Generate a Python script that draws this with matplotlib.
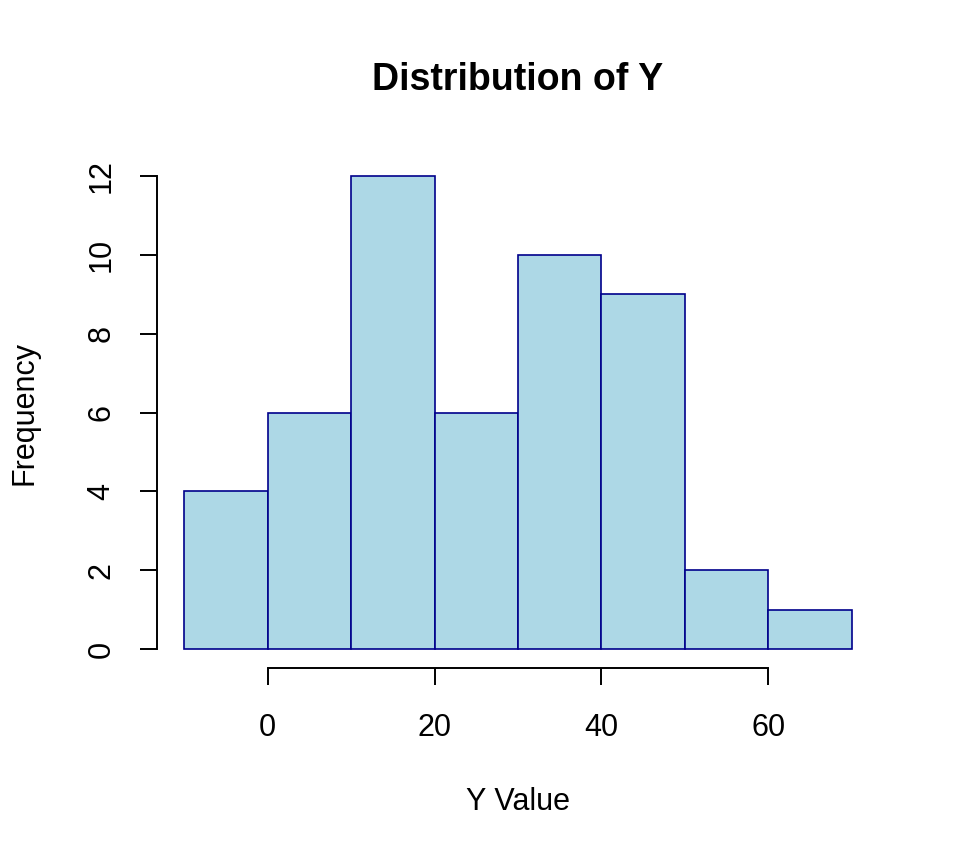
import matplotlib
matplotlib.use("Agg")
import matplotlib.pyplot as plt
import numpy as np

plt.rcParams['font.family'] = ['Liberation Sans', 'DejaVu Sans']

# histogram data
bin_edges = [-10, 0, 10, 20, 30, 40, 50, 60, 70]
counts = [4, 6, 12, 6, 10, 9, 2, 1]
x_ticks = [0, 20, 40, 60]
y_ticks = [0, 2, 4, 6, 8, 10, 12]

fig = plt.figure(figsize=(9.6, 8.64), dpi=100)
W, H = 960, 864
ax = fig.add_axes([157.3 / W, 1 - 667.9 / H, (878.7 - 157.3) / W, (667.9 - 157.1) / H])

lefts = np.array(bin_edges[:-1])
widths = np.diff(bin_edges)
ax.bar(lefts, counts, width=widths, align='edge', color='#ADD8E6',
       edgecolor='#00008B', linewidth=1.2)

# R style extent (4% padding)
span = bin_edges[-1] - bin_edges[0]
ax.set_xlim(bin_edges[0] - 0.04 * span, bin_edges[-1] + 0.04 * span)
ax.set_ylim(-0.04 * max(counts), max(counts) * 1.04)

for s in ['top', 'right']:
    ax.spines[s].set_visible(False)
ax.spines['left'].set_bounds(y_ticks[0], y_ticks[-1])
ax.spines['bottom'].set_bounds(x_ticks[0], x_ticks[-1])
for s in ['left', 'bottom']:
    ax.spines[s].set_linewidth(1.4)

ax.set_xticks(x_ticks)
ax.set_yticks(y_ticks)
ax.set_yticklabels([str(v) for v in y_ticks], rotation=90, va='center')
ax.tick_params(axis='both', length=12.5, width=1.4, labelsize=22)
ax.tick_params(axis='x', pad=20)
ax.tick_params(axis='y', pad=17)

fig.text(517.5 / W, 1 - 80 / H, 'Distribution of Y', ha='center', va='center',
         fontsize=27, fontweight='bold')
fig.text(517.5 / W, 1 - 802 / H, 'Y Value', ha='center', va='center', fontsize=22)
fig.text(25 / W, 1 - 413 / H, 'Frequency', ha='center', va='center',
         rotation=90, fontsize=22)

fig.savefig('out.png', dpi=100)
